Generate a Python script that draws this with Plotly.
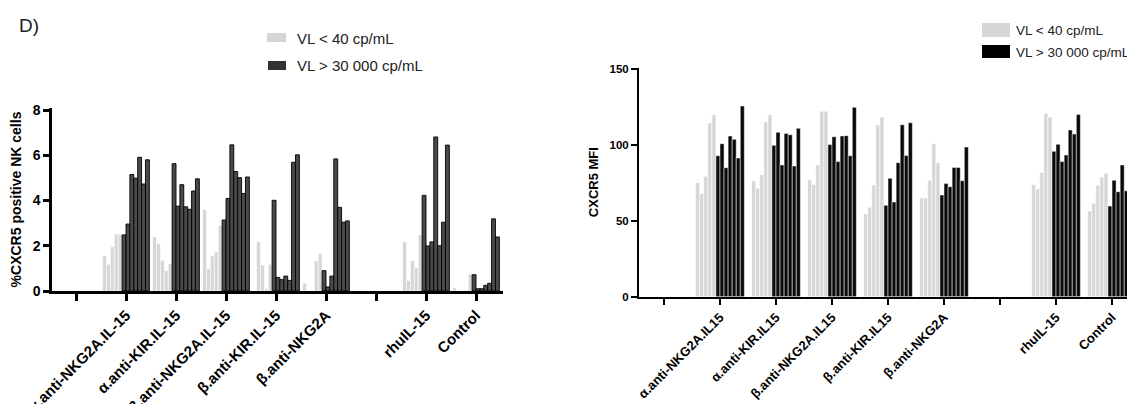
import plotly.graph_objects as go

# ---------------- data ----------------
cats_left = ["", "α.anti-NKG2A.IL-15", "α.anti-KIR.IL-15", "β.anti-NKG2A.IL-15",
             "β.anti-KIR.IL-15", "β.anti-NKG2A", "", "rhuIL-15", "Control"]
cats_right = ["", "α.anti-NKG2A.IL15", "α.anti-KIR.IL15", "β.anti-NKG2A.IL15",
              "β.anti-KIR.IL15", "β.anti-NKG2A", "", "rhuIL-15", "Control"]

# %CXCR5 positive NK cells, per group: 5 donors VL<40, 7 donors VL>30000
pct_low = [
    [1.55, 1.18, 1.95, 2.52, 2.51],
    [2.39, 2.09, 1.36, 0.90, 1.21],
    [3.60, 0.99, 1.55, 1.73, 2.89],
    [0.00, 2.17, 1.15, 0.10, 1.18],
    [0.35, 0.00, 0.00, 1.33, 1.65],
    [2.17, 0.46, 1.34, 1.03, 2.48],
    [0.15, 0.00, 0.00, 0.05, 0.75],
]
pct_high = [
    [2.48, 2.96, 5.15, 4.99, 5.91, 4.73, 5.80],
    [5.63, 3.75, 4.70, 3.72, 3.61, 4.42, 4.96],
    [3.14, 4.09, 6.46, 5.28, 5.01, 4.31, 5.04],
    [4.01, 0.60, 0.50, 0.66, 0.47, 5.69, 6.02],
    [0.90, 0.18, 0.66, 5.84, 3.70, 3.04, 3.10],
    [4.23, 1.99, 2.17, 6.81, 2.00, 3.04, 6.45],
    [0.72, 0.10, 0.10, 0.25, 0.34, 3.19, 2.39],
]
# CXCR5 MFI
mfi_low = [
    [75.1, 67.9, 79.3, 114.4, 119.9],
    [76.4, 71.4, 80.4, 115.1, 119.9],
    [77.1, 74.0, 86.8, 122.1, 122.1],
    [54.5, 58.9, 73.6, 113.3, 118.4],
    [65.0, 65.0, 76.7, 100.8, 88.3],
    [74.0, 70.9, 81.9, 120.8, 118.4],
    [56.4, 61.5, 73.4, 78.8, 81.3],
]
mfi_high = [
    [92.9, 100.8, 85.0, 105.9, 103.7, 91.4, 125.6],
    [99.7, 108.3, 86.8, 107.6, 106.7, 86.1, 110.9],
    [100.2, 105.4, 89.0, 105.9, 106.1, 92.9, 124.8],
    [60.2, 78.0, 62.4, 88.3, 113.3, 93.1, 114.6],
    [67.0, 74.5, 72.5, 85.2, 85.2, 76.4, 98.6],
    [95.8, 100.4, 89.0, 93.3, 109.8, 107.2, 120.1],
    [59.7, 76.7, 69.2, 86.8, 69.8, 66.3, 81.3],
]
legend_labels = ["VL < 40 cp/mL", "VL > 30 000 cp/mL"]

# ---------------- styling ----------------
PAGE_OFF = 8            # default body margin of the html page
W, H = 1135 - PAGE_OFF, 404 - PAGE_OFF
FONT = "Liberation Sans, Arial, Helvetica, sans-serif"
LIGHT = "#d6d6d6"
DARK_L = "#4a4a4a"
DARK_R = "#0a0a0a"


def px_x(p):
    return (p - PAGE_OFF) / W


def px_y(p):
    return 1 - (p - PAGE_OFF) / H


fig = go.Figure()


def add_panel(cats, low, high, xa, ya, dark_fill, dark_line, dark_lw, span):
    xs = [i for i, c in enumerate(cats) if c]
    n_low = len(low[0])
    n_high = len(high[0])
    n = n_low + n_high
    w = span / n
    for j in range(n_low):
        fig.add_trace(go.Bar(
            x=xs, y=[g[j] for g in low], xaxis=xa, yaxis=ya,
            width=w, offset=-span / 2 + j * w,
            marker=dict(color=LIGHT, line=dict(color="white", width=0.6)),
            showlegend=False, name=legend_labels[0]))
    for j in range(n_high):
        fig.add_trace(go.Bar(
            x=xs, y=[g[j] for g in high], xaxis=xa, yaxis=ya,
            width=w, offset=-span / 2 + (n_low + j) * w,
            marker=dict(color=dark_fill, line=dict(color=dark_line, width=dark_lw)),
            showlegend=False, name=legend_labels[1]))


add_panel(cats_left, pct_low, pct_high, "x", "y", DARK_L, "black", 0.9, 0.934)
add_panel(cats_right, mfi_low, mfi_high, "x2", "y2", DARK_R, "white", 0.5, 0.87)

axis_common = dict(showline=True, linecolor="black", ticks="outside",
                   tickcolor="black", showgrid=False, zeroline=False,
                   automargin=False)

fig.update_layout(
    width=W, height=H, margin=dict(l=0, r=0, t=0, b=0, autoexpand=False),
    paper_bgcolor="white", plot_bgcolor="white",
    barmode="overlay",
    font=dict(family=FONT, color="black"),
    showlegend=False,
    xaxis=dict(domain=[px_x(52), px_x(503)], range=[-0.48, 8.54],
               tickmode="array", tickvals=list(range(len(cats_left))),
               ticktext=cats_left, tickangle=-45,
               tickfont=dict(size=15, weight="bold"),
               linewidth=2.5, tickwidth=2.5, ticklen=7, anchor="y",
               **axis_common),
    yaxis=dict(domain=[px_y(291), px_y(108)], range=[0, 8.09],
               tickmode="array", tickvals=[0, 2, 4, 6, 8],
               tickfont=dict(size=14, weight="bold"),
               linewidth=2.5, tickwidth=2.5, ticklen=6, anchor="x",
               title=dict(text="%CXCR5 positive NK cells",
                          font=dict(size=14, weight="bold"), standoff=8),
               **axis_common),
    xaxis2=dict(domain=[px_x(639), 1.0], range=[-0.446, 8.41],
                tickmode="array", tickvals=list(range(len(cats_right))),
                ticktext=cats_right, tickangle=-45,
                tickfont=dict(size=13, weight="bold"),
                linewidth=2, tickwidth=2, ticklen=6, anchor="y2",
                **axis_common),
    yaxis2=dict(domain=[px_y(296.7), px_y(67.5)], range=[0, 151],
                tickmode="array", tickvals=[0, 50, 100, 150],
                tickfont=dict(size=11.5, weight="bold"),
                linewidth=2, tickwidth=2, ticklen=6, anchor="x2",
                title=dict(text="CXCR5 MFI",
                           font=dict(size=13, weight="bold"), standoff=8),
                **axis_common),
)

shapes = []
annotations = []
# legends (swatch + text)
leg = [
    (267, 286, 33, 42, LIGHT, 295, 38, legend_labels[0], 15),
    (268, 286, 61, 70, "#333333", 295, 66, legend_labels[1], 15),
    (982, 1010, 23, 37, LIGHT, 1014, 30, legend_labels[0], 13.5),
    (982, 1010, 45, 58, "black", 1014, 52, legend_labels[1], 13.5),
]
for x0, x1, y0, y1, col, tx, ty, txt, fs in leg:
    shapes.append(dict(type="rect", xref="paper", yref="paper",
                       x0=px_x(x0), x1=px_x(x1), y0=px_y(y1), y1=px_y(y0),
                       fillcolor=col, line=dict(width=0)))
    annotations.append(dict(xref="paper", yref="paper", x=px_x(tx), y=px_y(ty),
                            xanchor="left", yanchor="middle", showarrow=False,
                            text=txt, font=dict(size=fs, color="#222222")))
annotations.append(dict(xref="paper", yref="paper", x=px_x(17), y=px_y(26),
                        xanchor="left", yanchor="middle", showarrow=False,
                        text="D)", font=dict(size=19, color="#222222")))
fig.update_layout(shapes=shapes, annotations=annotations)

fig.write_html("out.html")
